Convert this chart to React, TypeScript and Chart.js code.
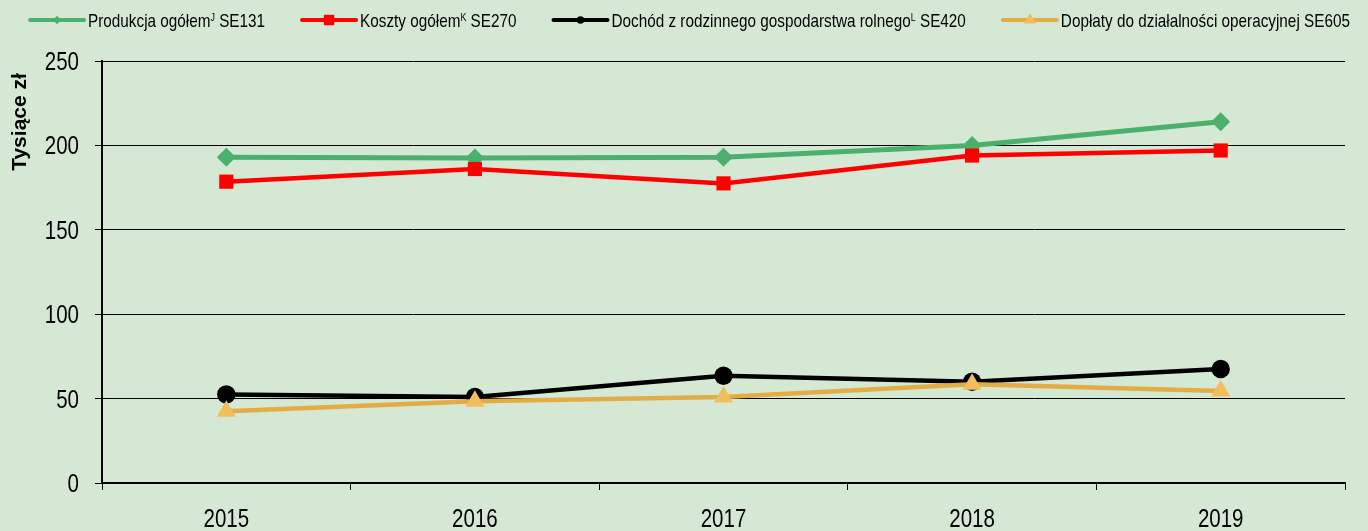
import React, { useEffect, useRef } from "react";
import { Chart, registerables } from "chart.js";

Chart.register(...registerables);

// ---- data ----
const years = ["2015", "2016", "2017", "2018", "2019"];
const produkcja = [193, 192.5, 193, 200, 214];
const koszty = [178.5, 186, 177.5, 194, 197];
const dochod = [52.5, 51, 63.5, 60, 67.5];
const doplaty = [42.5, 48.5, 51, 58.5, 54.5];
const seriesLabels = [
  "Produkcja ogółemᴶ SE131",
  "Koszty ogółemᴷ SE270",
  "Dochód z rodzinnego gospodarstwa rolnegoᴸ SE420",
  "Dopłaty do działalności operacyjnej SE605",
];
const yAxisTitle = "Tysiące zł";
const yMin = 0;
const yMax = 250;
const yStep = 50;

const BG = "#D5E8D4";
const FONT = "'Liberation Sans', Arial, sans-serif";
const NARROW_SCALE = 0.82;
const LEGEND_SCALE = 0.805;
const SUP: Record<string, string> = { "ᴶ": "J", "ᴷ": "K", "ᴸ": "L" };

function drawMarker(ctx: CanvasRenderingContext2D, style: string, x: number, y: number, r: number, color: string) {
  ctx.fillStyle = color;
  ctx.beginPath();
  if (style === "rectRot") {
    ctx.moveTo(x, y - r);
    ctx.lineTo(x + r, y);
    ctx.lineTo(x, y + r);
    ctx.lineTo(x - r, y);
    ctx.closePath();
  } else if (style === "rect") {
    ctx.rect(x - r, y - r, 2 * r, 2 * r);
  } else if (style === "circle") {
    ctx.arc(x, y, r, 0, Math.PI * 2);
  } else if (style === "triangle") {
    ctx.moveTo(x, y - r);
    ctx.lineTo(x + r * 0.866, y + r * 0.5);
    ctx.lineTo(x - r * 0.866, y + r * 0.5);
    ctx.closePath();
  }
  ctx.fill();
}

function segments(label: string) {
  const segs: { t: string; sup: boolean }[] = [];
  for (const ch of label) {
    const sup = ch in SUP;
    const t = sup ? SUP[ch] : ch;
    const last = segs[segs.length - 1];
    if (last && last.sup === sup) last.t += t;
    else segs.push({ t, sup });
  }
  return segs;
}

// narrow text: draw horizontally compressed text
function narrowText(
  ctx: CanvasRenderingContext2D,
  t: string,
  x: number,
  y: number,
  align: "left" | "center" | "right",
  k: number = NARROW_SCALE
) {
  const w = ctx.measureText(t).width * k;
  let x0 = x;
  if (align === "center") x0 = x - w / 2;
  else if (align === "right") x0 = x - w;
  ctx.save();
  ctx.translate(x0, y);
  ctx.scale(k, 1);
  ctx.textAlign = "left";
  ctx.fillText(t, 0, 0);
  ctx.restore();
  return w;
}

const legendSizes: Record<string, number> = { rectRot: 4.2, rect: 5.2, circle: 3.8, triangle: 7 };

const customPlugin = {
  id: "customDecor",
  beforeDraw(chart: any) {
    const ctx = chart.ctx as CanvasRenderingContext2D;
    ctx.save();
    ctx.fillStyle = BG;
    ctx.fillRect(0, 0, chart.width, chart.height);
    ctx.restore();
  },
  afterDraw(chart: any) {
    const ctx = chart.ctx as CanvasRenderingContext2D;
    const fontMain = `19px ${FONT}`;
    const fontSup = `11px ${FONT}`;
    const lineLen = 54;
    const gapText = 4;
    const gapItem = 37;
    const cy = 20;
    ctx.save();
    ctx.textBaseline = "alphabetic";
    const items = chart.data.datasets.map((ds: any) => {
      const segs = segments(ds.label);
      let w = 0;
      for (const s of segs) {
        ctx.font = s.sup ? fontSup : fontMain;
        w += ctx.measureText(s.t).width * LEGEND_SCALE;
      }
      return { ds, segs, w };
    });
    const total =
      items.reduce((a: number, it: any) => a + lineLen + gapText + it.w, 0) + gapItem * (items.length - 1);
    let x = (chart.width - total) / 2 + 6;
    for (const it of items) {
      const ds = it.ds;
      ctx.strokeStyle = ds.borderColor;
      ctx.lineWidth = 4;
      ctx.lineCap = "round";
      ctx.beginPath();
      ctx.moveTo(x, cy);
      ctx.lineTo(x + lineLen, cy);
      ctx.stroke();
      drawMarker(ctx, ds.pointStyle, x + lineLen / 2, cy, legendSizes[ds.pointStyle], ds.pointBackgroundColor);
      x += lineLen + gapText;
      ctx.fillStyle = "#000";
      for (const s of it.segs) {
        ctx.font = s.sup ? fontSup : fontMain;
        x += narrowText(ctx, s.t, x, s.sup ? cy + 1 : cy + 7, "left", LEGEND_SCALE);
      }
      x += gapItem;
    }

    // tick labels (narrow)
    ctx.fillStyle = "#000";
    ctx.font = `25px ${FONT}`;
    const ys = chart.scales.y;
    ys.ticks.forEach((t: any, i: number) => {
      const py = ys.getPixelForTick(i);
      ctx.textBaseline = "alphabetic";
      narrowText(ctx, String(t.label), ys.right - 23, py + 9, "right");
    });
    const xs = chart.scales.x;
    xs.ticks.forEach((t: any, i: number) => {
      const px = xs.getPixelForTick(i);
      narrowText(ctx, String(t.label), px, xs.top + 44, "center");
    });

    // y axis title
    ctx.font = `bold 21px ${FONT}`;
    ctx.fillStyle = "#000";
    ctx.translate(20, 122);
    ctx.rotate(-Math.PI / 2);
    ctx.textAlign = "center";
    ctx.textBaseline = "middle";
    ctx.fillText(yAxisTitle, 0, 0);
    ctx.restore();
  },
};

export default function App() {
  const ref = useRef<HTMLCanvasElement | null>(null);
  useEffect(() => {
    if (!ref.current) return;
    const chart = new Chart(ref.current, {
      type: "line",
      data: {
        labels: years,
        datasets: [
          {
            label: seriesLabels[0],
            data: produkcja,
            borderColor: "#4BAF6D",
            backgroundColor: "#4BAF6D",
            pointBackgroundColor: "#4BAF6D",
            pointBorderWidth: 0,
            pointStyle: "rectRot",
            pointRadius: 9.5,
            borderWidth: 5,
            order: 4,
          },
          {
            label: seriesLabels[1],
            data: koszty,
            borderColor: "#FF0000",
            backgroundColor: "#FF0000",
            pointBackgroundColor: "#FF0000",
            pointBorderWidth: 0,
            pointStyle: "rect",
            pointRadius: 10,
            borderWidth: 4.5,
            order: 3,
          },
          {
            label: seriesLabels[2],
            data: dochod,
            borderColor: "#000000",
            backgroundColor: "#000000",
            pointBackgroundColor: "#000000",
            pointBorderWidth: 0,
            pointStyle: "circle",
            pointRadius: 9.2,
            borderWidth: 4.5,
            order: 2,
          },
          {
            label: seriesLabels[3],
            data: doplaty,
            borderColor: "#E3AC45",
            backgroundColor: "#F0BF5C",
            pointBackgroundColor: "#F0BF5C",
            pointBorderWidth: 0,
            pointStyle: "triangle",
            pointRadius: 11,
            borderWidth: 4.5,
            order: 1,
          },
        ],
      },
      options: {
        responsive: false,
        animation: false,
        layout: { padding: { top: 61, right: 23, left: 0, bottom: 0 } },
        plugins: {
          legend: { display: false },
          tooltip: { enabled: false },
        },
        scales: {
          x: {
            type: "category",
            offset: true,
            grid: {
              offset: true,
              drawOnChartArea: false,
              drawTicks: true,
              tickLength: 7,
              color: "#000",
              lineWidth: 1,
            },
            border: { display: true, color: "#000", width: 2 },
            ticks: {
              color: "rgba(0,0,0,0)",
              font: { family: FONT, size: 25 },
              padding: 14,
              maxRotation: 0,
            },
            afterFit: (s: any) => {
              s.height = 48;
            },
          },
          y: {
            min: yMin,
            max: yMax,
            grid: {
              color: "#000",
              lineWidth: 1,
              drawTicks: true,
              tickLength: 7,
            },
            border: { display: true, color: "#000", width: 2 },
            ticks: {
              stepSize: yStep,
              color: "rgba(0,0,0,0)",
              font: { family: FONT, size: 25 },
              padding: 16,
            },
            afterFit: (s: any) => {
              s.width = 102;
            },
          },
        },
      },
      plugins: [customPlugin],
    } as any);
    return () => chart.destroy();
  }, []);
  return (
    <div style={{ position: "fixed", left: 0, top: 0, width: 1368, height: 531, background: BG }}>
      <canvas ref={ref} width={1368} height={531} style={{ display: "block" }} />
    </div>
  );
}
